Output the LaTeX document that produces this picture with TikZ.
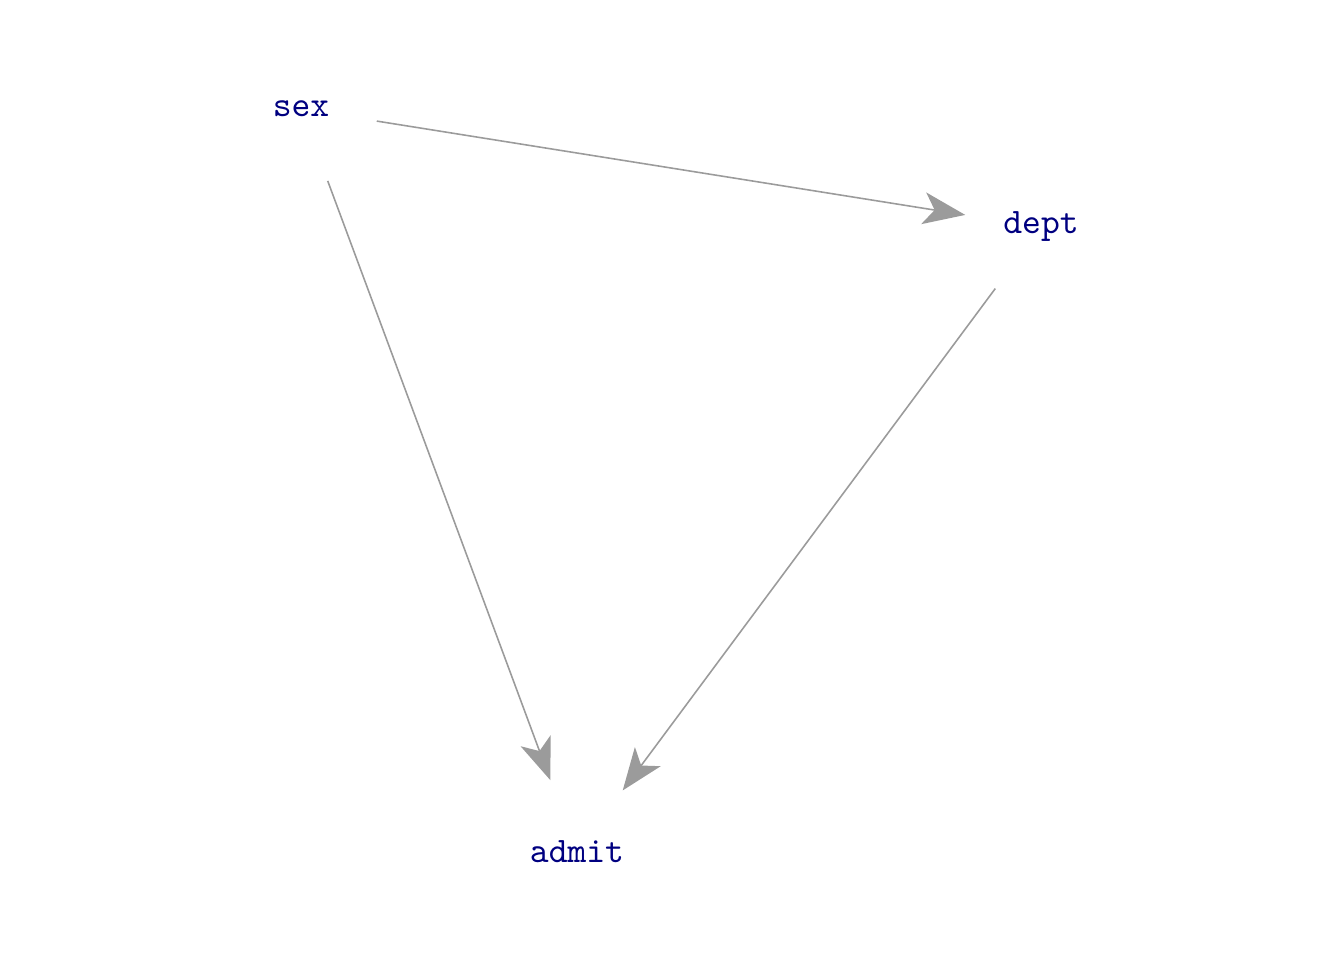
\documentclass[tikz,border=0pt]{standalone}
\usepackage{tikz}
\usetikzlibrary{positioning, arrows.meta, calc}
\definecolor{varnavy}{RGB}{0,0,128}
\definecolor{edgegray}{RGB}{155,155,155}

\begin{document}
\begin{tikzpicture}[>={Stealth[length=4.2mm, width=3.2mm, inset=1.1mm]},
    var/.style={circle, minimum size=1.52cm, inner sep=0pt,
        font=\ttfamily\fontsize{10.2}{11}\selectfont, text=varnavy},
    edge/.style={->, edgegray, line width=0.45pt}]
    \useasboundingbox (0,0) rectangle (13.44,9.6);
    % variables
    \node[var] (sex) at (3.01,8.51) {sex};
    \node[var] (dept) at (10.41,7.33) {dept};
    \node[var] (admit) at (5.77,1.08) {admit};
    % causal arrows
    \draw[edge] (sex) -- (dept);
    \draw[edge] (sex) -- (admit);
    \draw[edge] (dept) -- (admit);
\end{tikzpicture}
\end{document}
